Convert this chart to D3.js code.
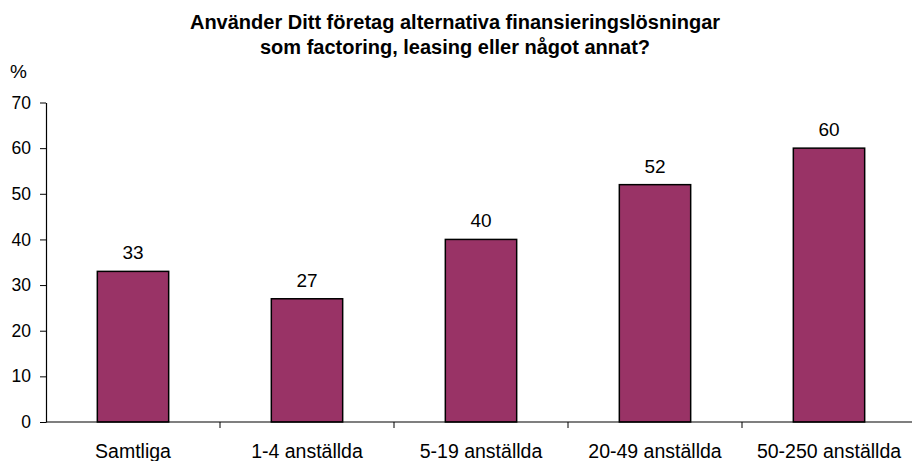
<!DOCTYPE html>
<html>
<head>
<meta charset="utf-8">
<script src="https://cdn.jsdelivr.net/npm/d3@7"></script>
<style>
  html, body { margin: 0; padding: 0; background: #fff; }
  svg { display: block; font-family: "Liberation Sans", Arial, sans-serif; }
</style>
</head>
<body>
<svg id="chart" width="912" height="461"></svg>
<script>
// Share of companies using alternative financing, by company size
const categories = ["Samtliga", "1-4 anställda", "5-19 anställda", "20-49 anställda", "50-250 anställda"];
const values = [33, 27, 40, 52, 60];
const yTicks = [0, 10, 20, 30, 40, 50, 60, 70];
const titleLines = [
  "Använder Ditt företag alternativa finansieringslösningar",
  "som factoring, leasing eller något annat?"
];

const svg = d3.select("#chart");
const plotLeft = 46, plotRight = 916, plotTop = 102.5, plotBottom = 422;

const x = d3.scaleBand().domain(categories).range([plotLeft, plotRight]).paddingInner(0.59).paddingOuter(0.295);
const y = d3.scaleLinear().domain([0, 70]).range([plotBottom, plotTop]);

// Title
svg.append("g").selectAll("text").data(titleLines).join("text")
  .attr("x", 455).attr("y", (d, i) => 28.5 + i * 25.5)
  .attr("text-anchor", "middle")
  .attr("font-weight", "bold").attr("font-size", 20)
  .text(d => d);

// Unit label
svg.append("text").attr("x", 10).attr("y", 78).attr("font-size", 19).text("%");

// Bars
svg.append("g").selectAll("rect").data(values).join("rect")
  .attr("x", (d, i) => x(categories[i]))
  .attr("y", d => y(d))
  .attr("width", x.bandwidth())
  .attr("height", d => y(0) - y(d))
  .attr("fill", "#993366")
  .attr("stroke", "#000").attr("stroke-width", 1.5);

// Value labels
svg.append("g").selectAll("text").data(values).join("text")
  .attr("x", (d, i) => x(categories[i]) + x.bandwidth() / 2)
  .attr("y", d => y(d) - 12)
  .attr("text-anchor", "middle").attr("font-size", 19)
  .text(d => d);

// Y axis
const yAxis = svg.append("g").attr("transform", `translate(${plotLeft},0)`)
  .call(d3.axisLeft(y).tickValues(yTicks).tickSize(6).tickPadding(9).tickSizeOuter(0));
yAxis.select(".domain").attr("stroke", "#000").attr("stroke-width", 1.2);
yAxis.selectAll(".tick line").attr("stroke", "#000");
yAxis.selectAll(".tick text").attr("font-size", 17.5).attr("font-family", "Liberation Sans, Arial, sans-serif").attr("fill", "#000");

// X axis: ticks between categories
const xAxis = svg.append("g").attr("transform", `translate(0,${plotBottom})`);
xAxis.append("line").attr("x1", plotLeft).attr("x2", plotRight).attr("stroke", "#000").attr("stroke-width", 1.2);
const step = x.step();
xAxis.selectAll("line.sep").data(d3.range(1, categories.length + 1)).join("line")
  .attr("class", "sep")
  .attr("x1", i => plotLeft + i * step).attr("x2", i => plotLeft + i * step)
  .attr("y1", 0).attr("y2", 6).attr("stroke", "#000");
xAxis.selectAll("text").data(categories).join("text")
  .attr("x", d => x(d) + x.bandwidth() / 2)
  .attr("y", 35.5)
  .attr("text-anchor", "middle").attr("font-size", 19.5)
  .text(d => d);
</script>
</body>
</html>
